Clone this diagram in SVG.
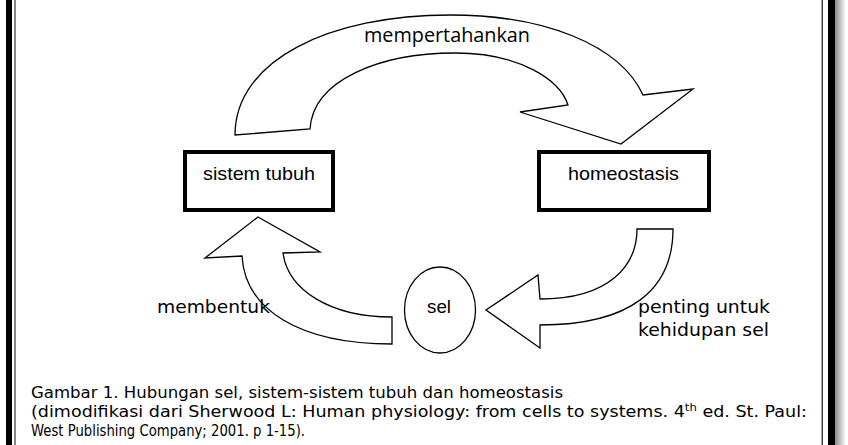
<svg xmlns="http://www.w3.org/2000/svg" width="848" height="445" viewBox="0 0 848 445">
<defs>
<linearGradient id="shadow" x1="0" y1="0" x2="1" y2="0">
<stop offset="0" stop-color="#8a8a8a"/>
<stop offset="1" stop-color="#ffffff"/>
</linearGradient>
</defs>
<style>
.box{fill:#fff;stroke:#000;stroke-width:4}
.arrow{fill:#fff;stroke:#000;stroke-width:1.3;stroke-linejoin:miter}
.node-text{font-family:"Liberation Sans",Arial,sans-serif;font-size:19px;fill:#000}
.lbl{font-family:"DejaVu Sans","Liberation Sans",sans-serif;font-size:18.5px;fill:#000}
.top{font-family:"Open Sans","Liberation Sans",sans-serif;font-size:19.5px;fill:#000}
.cap{font-family:"DejaVu Sans","Liberation Sans",sans-serif;font-size:15px;fill:#000}
</style>
<rect width="848" height="445" fill="#fff"/>
<g id="frame">
<rect x="6" y="0" width="6" height="445" fill="#000"/>
<rect x="14" y="0" width="2" height="445" fill="#888"/>
<rect x="821.5" y="0" width="1.5" height="445" fill="#444"/>
<rect x="828" y="0" width="7" height="445" fill="#000"/>
<rect x="835" y="0" width="11" height="445" fill="url(#shadow)"/>
</g>
<g id="connectors">
<path id="arrow-mempertahankan" class="arrow" d="M235,135 C235,60 330,15 450,15 C545,15 620,45 643,95 L693,89 L621,144 L520,112 L568,105 C560,80 520,53 455,53 C380,53 313,80 310,129 Z"/>
<path id="arrow-penting" class="arrow" d="M637,229 L673,229 C673,290 630,325 540,325 L540,348 L486,310 L538,275 L540,299 C610,299 637,265 637,229 Z"/>
<path id="arrow-membentuk" class="arrow" d="M258,217 L320,252 L283,253 C288,290 330,317 392,317 L392,344 C300,344 245,310 242,256 L205,258 Z"/>
</g>
<g id="labels">
<text class="top" x="364" y="42" textLength="166" lengthAdjust="spacingAndGlyphs">mempertahankan</text>
<text class="lbl" x="157" y="313" textLength="113" lengthAdjust="spacingAndGlyphs">membentuk</text>
<text class="lbl" x="638" y="313" textLength="132" lengthAdjust="spacingAndGlyphs">penting untuk</text>
<text class="lbl" x="638" y="336" textLength="131" lengthAdjust="spacingAndGlyphs">kehidupan sel</text>
</g>
<g id="node-sistem-tubuh">
<rect class="box" x="185" y="152" width="148" height="58"/>
<text class="node-text" x="203" y="180" textLength="112" lengthAdjust="spacingAndGlyphs">sistem tubuh</text>
</g>
<g id="node-homeostasis">
<rect class="box" x="539" y="152" width="170" height="58"/>
<text class="node-text" x="568" y="180" textLength="111" lengthAdjust="spacingAndGlyphs">homeostasis</text>
</g>
<g id="node-sel">
<ellipse cx="440" cy="310" rx="35.5" ry="43" fill="#fff" stroke="#000" stroke-width="1.3"/>
<text class="node-text" x="427" y="313" textLength="24" lengthAdjust="spacingAndGlyphs">sel</text>
</g>
<g id="caption">
<text class="cap" x="31" y="398" textLength="532" lengthAdjust="spacingAndGlyphs">Gambar 1. Hubungan sel, sistem-sistem tubuh dan homeostasis</text>
<text class="cap" x="31" y="417" textLength="776" lengthAdjust="spacingAndGlyphs">(dimodifikasi dari Sherwood L: Human physiology: from cells to systems. 4<tspan font-size="10" dy="-6">th</tspan><tspan dy="6"> ed. St. Paul:</tspan></text>
<text class="cap" x="31" y="436" textLength="274" lengthAdjust="spacingAndGlyphs">West Publishing Company; 2001. p 1-15).</text>
</g>
</svg>
